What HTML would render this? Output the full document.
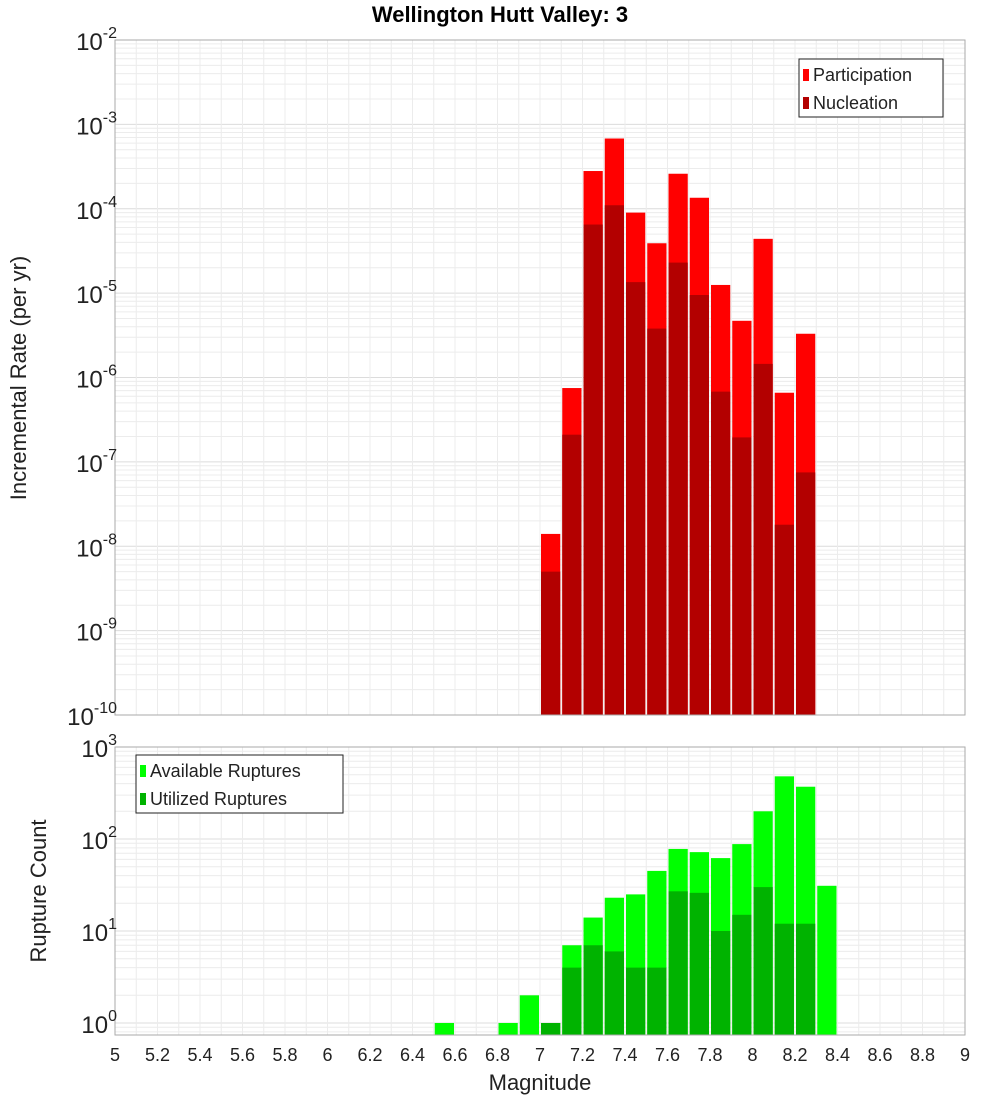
<!DOCTYPE html>
<html><head><meta charset="utf-8"><style>
body{margin:0;background:#fff;font-family:"Liberation Sans",sans-serif;}
</style></head><body>
<svg id="c" width="1000" height="1100" xmlns="http://www.w3.org/2000/svg" font-family="Liberation Sans, sans-serif"></svg>
<script>
const bins=[7.05,7.15,7.25,7.35,7.45,7.55,7.65,7.75,7.85,7.95,8.05,8.15,8.25];
const participation=[1.4e-8,7.5e-7,2.8e-4,6.8e-4,9e-5,3.9e-5,2.6e-4,1.35e-4,1.25e-5,4.7e-6,4.4e-5,6.6e-7,3.3e-6];
const nucleation=[5e-9,2.1e-7,6.5e-5,1.1e-4,1.35e-5,3.8e-6,2.3e-5,9.5e-6,6.8e-7,1.95e-7,1.45e-6,1.8e-8,7.5e-8];
const countBins=[6.55,6.85,6.95,7.05,7.15,7.25,7.35,7.45,7.55,7.65,7.75,7.85,7.95,8.05,8.15,8.25,8.35];
const available=[1,1,2,1,7,14,23,25,45,78,72,62,88,200,480,370,31];
const utilized=[0,0,0,1,4,7,6,4,4,27,26,10,15,30,12,12,0];
const xTicks=[5,5.2,5.4,5.6,5.8,6,6.2,6.4,6.6,6.8,7,7.2,7.4,7.6,7.8,8,8.2,8.4,8.6,8.8,9];
const topExp=[-10,-9,-8,-7,-6,-5,-4,-3,-2];
const botExp=[0,1,2,3];

const svg=document.getElementById('c');const NS='http://www.w3.org/2000/svg';
function mk(t,a,p){const e=document.createElementNS(NS,t);for(const k in a)e.setAttribute(k,a[k]);(p||svg).appendChild(e);return e;}
const X0=115,X1=965;
const x=v=>X0+(v-5)/4*(X1-X0);
const T0=40,T1=715;
const yT=v=>T1-(Math.log10(v)+10)/8*(T1-T0);
const B0=747,B1=1035,BD=92;
const yB=v=>B0+(3-Math.log10(v))*BD;

function frame(y0,y1,yf,emin,emax,name){
  const g=mk('g',{});
  
  
  mk('rect',{x:X0,y:y0,width:X1-X0,height:y1-y0,fill:'#fff'},g);
  for(let e=emin;e<=emax;e++)for(let m=1;m<10;m++){const v=m*Math.pow(10,e);const yy=yf(v);if(yy<y0||yy>y1)continue;
    mk('line',{x1:X0,x2:X1,y1:yy,y2:yy,stroke:m==1?'#dcdcdc':'#ececec','stroke-width':1},g);}
  for(let t=5;t<=9.001;t+=0.1){mk('line',{x1:x(t),x2:x(t),y1:y0,y2:y1,stroke:'#ececec','stroke-width':1},g);}
  return g;
}
frame(T0,T1,yT,-10,-3,'top-plot-area');
frame(B0,B1,yB,-1,2,'bottom-plot-area');
const W=(X1-X0)/40;
bins.forEach((b,i)=>{
  const r=mk('rect',{x:x(b)-W/2+1,y:yT(participation[i]),width:W-2,height:T1-yT(participation[i]),fill:'#ff0000'});
  
  
  const n=mk('rect',{x:x(b)-W/2+1,y:yT(nucleation[i]),width:W-2,height:T1-yT(nucleation[i]),fill:'#b30000'});
  
  
});
countBins.forEach((b,i)=>{
  if(available[i]>0){const r=mk('rect',{x:x(b)-W/2+1,y:yB(available[i]),width:W-2,height:B1-yB(available[i]),fill:'#00ff00'});
  
  }
  if(utilized[i]>0){const u=mk('rect',{x:x(b)-W/2+1,y:yB(utilized[i]),width:W-2,height:B1-yB(utilized[i]),fill:'#00b300'});
  
  }
});
mk('rect',{x:X0,y:T0,width:X1-X0,height:T1-T0,fill:'none',stroke:'#aaa'});
mk('rect',{x:X0,y:B0,width:X1-X0,height:B1-B0,fill:'none',stroke:'#aaa'});
function pow(px,py,e,name){const t=mk('text',{x:px,y:py,'font-size':24,'text-anchor':'end',fill:'#222'});
  
  
  t.innerHTML='10<tspan dy="-12" font-size="16">'+e+'</tspan>';}
topExp.forEach(e=>pow(e==-10?117:117,yT(Math.pow(10,e))+10,e,'y-tick-label'));
botExp.forEach(e=>pow(117,yB(Math.pow(10,e))+10,e,'y2-tick-label'));
xTicks.forEach(v=>{const t=mk('text',{x:x(v),y:1061,'font-size':18,'text-anchor':'middle',fill:'#222'});
  
  
  t.textContent=String(v);});
function txt(s,a,name){const t=mk('text',a);t.textContent=s;
  
  return t;}
txt('Wellington Hutt Valley: 3',{x:500,y:22,'font-size':22,'font-weight':'bold','text-anchor':'middle'},'chart-title');
txt('Magnitude',{x:540,y:1090,'font-size':22,'text-anchor':'middle',fill:'#222'},'x-axis-title');
txt('Incremental Rate (per yr)',{x:0,y:0,'font-size':22,'text-anchor':'middle',fill:'#222',transform:'translate(26,378) rotate(-90)'},'y-axis-title');
txt('Rupture Count',{x:0,y:0,'font-size':22,'text-anchor':'middle',fill:'#222',transform:'translate(46,891) rotate(-90)'},'y2-axis-title');
function legend(lx,ly,w,items,name){const g=mk('g',{});
  
  
  mk('rect',{x:lx,y:ly,width:w,height:58,fill:'#fff',stroke:'#222'},g);
  items.forEach((it,i)=>{mk('rect',{x:lx+4,y:ly+10+i*28,width:6,height:12,fill:it[1]},g);
    const t=mk('text',{x:lx+14,y:ly+22+i*28,'font-size':18,fill:'#222'},g);t.textContent=it[0];});}
legend(799,59,144,[['Participation','#ff0000'],['Nucleation','#b30000']],'legend-top');
legend(136,755,207,[['Available Ruptures','#00ff00'],['Utilized Ruptures','#00b300']],'legend-bottom');
</script>
</body></html>
